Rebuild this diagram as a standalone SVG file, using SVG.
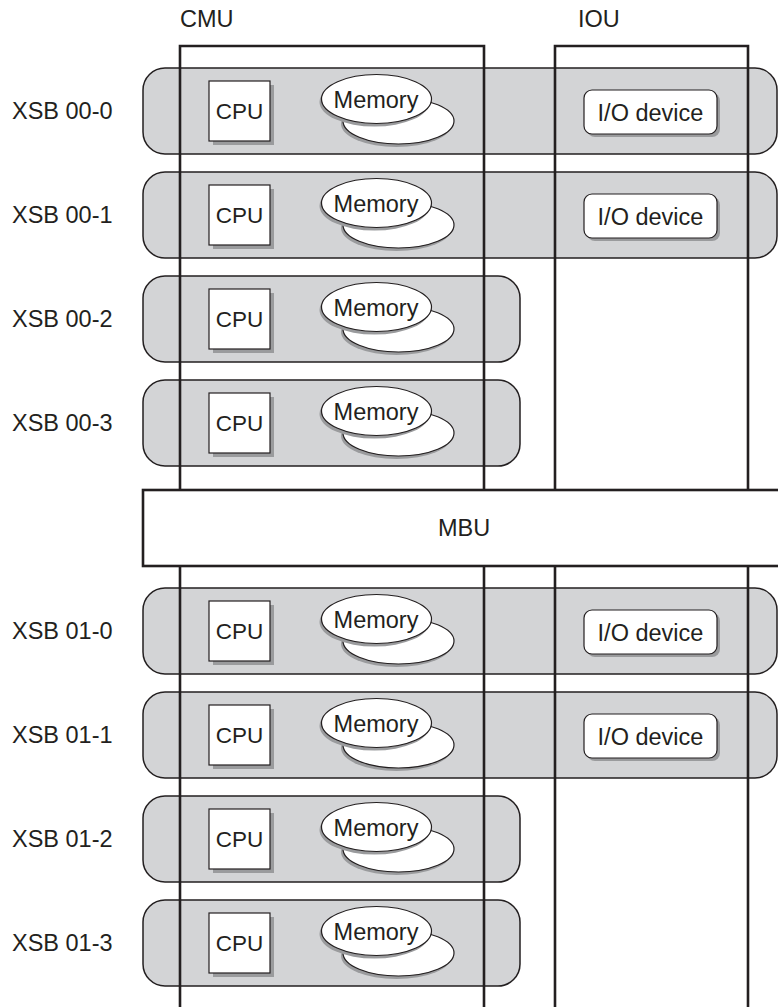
<svg xmlns="http://www.w3.org/2000/svg" width="778" height="1007" viewBox="0 0 778 1007">
<style>
text{font-family:"Liberation Sans",Arial,sans-serif;font-size:23.5px;fill:#231f20}
.mid{text-anchor:middle}
.cpu{font-size:22.5px}
.band{fill:#d3d4d6;stroke:#231f20;stroke-width:1.5}
.frame{fill:none;stroke:#231f20;stroke-width:2.6}
.box{fill:#fff;stroke:#231f20;stroke-width:1.2}
.sh{fill:#9a9b9d;stroke:none}
.mbu{fill:#fff;stroke:#231f20;stroke-width:2.6}
</style>
<defs>
<g id="cpu">
<rect class="sh" x="213" y="17" width="61" height="60"/>
<rect class="box" x="209" y="13" width="61" height="60"/>
<text class="mid cpu" x="239.5" y="51">CPU</text>
</g>
<g id="mem">
<ellipse class="sh" cx="396.5" cy="56" rx="55.5" ry="23"/>
<ellipse class="box" cx="398.5" cy="53" rx="55.5" ry="23"/>
<ellipse class="sh" cx="374.5" cy="34" rx="55" ry="24.5"/>
<ellipse class="box" cx="376.5" cy="31" rx="55" ry="24.5"/>
<text class="mid" x="376" y="39.5">Memory</text>
</g>
<g id="io">
<rect class="sh" x="587" y="25" width="133" height="44" rx="8"/>
<rect class="box" x="584" y="22" width="133" height="44" rx="8"/>
<text class="mid" x="650.5" y="52.5">I/O device</text>
</g>
</defs>

<g id="xsb-00-0"><rect class="band" x="143" y="68" width="634" height="86" rx="22"/><text x="12" y="119">XSB 00-0</text></g>
<g id="xsb-00-1"><rect class="band" x="143" y="172" width="634" height="86" rx="22"/><text x="12" y="223">XSB 00-1</text></g>
<g id="xsb-00-2"><rect class="band" x="143" y="276" width="377" height="86" rx="22"/><text x="12" y="327">XSB 00-2</text></g>
<g id="xsb-00-3"><rect class="band" x="143" y="380" width="377" height="86" rx="22"/><text x="12" y="431">XSB 00-3</text></g>
<g id="xsb-01-0"><rect class="band" x="143" y="588" width="634" height="86" rx="22"/><text x="12" y="639">XSB 01-0</text></g>
<g id="xsb-01-1"><rect class="band" x="143" y="692" width="634" height="86" rx="22"/><text x="12" y="743">XSB 01-1</text></g>
<g id="xsb-01-2"><rect class="band" x="143" y="796" width="377" height="86" rx="22"/><text x="12" y="847">XSB 01-2</text></g>
<g id="xsb-01-3"><rect class="band" x="143" y="900" width="377" height="86" rx="22"/><text x="12" y="951">XSB 01-3</text></g>

<g id="connectors">
<g id="cmu">
<path class="frame" d="M180,490 V46 H484 V490 M180,566 V1007 M484,566 V1007"/>
<text x="180" y="27">CMU</text>
</g>
<g id="iou">
<path class="frame" d="M555,490 V46 H748 V490 M555,566 V1007 M748,566 V1007"/>
<text x="578" y="27">IOU</text>
</g>
</g>

<g id="mbu"><rect class="mbu" x="143" y="490" width="645" height="76"/><text class="mid" x="464" y="536">MBU</text></g>

<g id="cpu-00-0" transform="translate(0,68)"><use href="#cpu"/></g>
<g id="mem-00-0" transform="translate(0,68)"><use href="#mem"/></g>
<g id="io-00-0" transform="translate(0,68)"><use href="#io"/></g>
<g id="cpu-00-1" transform="translate(0,172)"><use href="#cpu"/></g>
<g id="mem-00-1" transform="translate(0,172)"><use href="#mem"/></g>
<g id="io-00-1" transform="translate(0,172)"><use href="#io"/></g>
<g id="cpu-00-2" transform="translate(0,276)"><use href="#cpu"/></g>
<g id="mem-00-2" transform="translate(0,276)"><use href="#mem"/></g>
<g id="cpu-00-3" transform="translate(0,380)"><use href="#cpu"/></g>
<g id="mem-00-3" transform="translate(0,380)"><use href="#mem"/></g>
<g id="cpu-01-0" transform="translate(0,588)"><use href="#cpu"/></g>
<g id="mem-01-0" transform="translate(0,588)"><use href="#mem"/></g>
<g id="io-01-0" transform="translate(0,588)"><use href="#io"/></g>
<g id="cpu-01-1" transform="translate(0,692)"><use href="#cpu"/></g>
<g id="mem-01-1" transform="translate(0,692)"><use href="#mem"/></g>
<g id="io-01-1" transform="translate(0,692)"><use href="#io"/></g>
<g id="cpu-01-2" transform="translate(0,796)"><use href="#cpu"/></g>
<g id="mem-01-2" transform="translate(0,796)"><use href="#mem"/></g>
<g id="cpu-01-3" transform="translate(0,900)"><use href="#cpu"/></g>
<g id="mem-01-3" transform="translate(0,900)"><use href="#mem"/></g>
</svg>
